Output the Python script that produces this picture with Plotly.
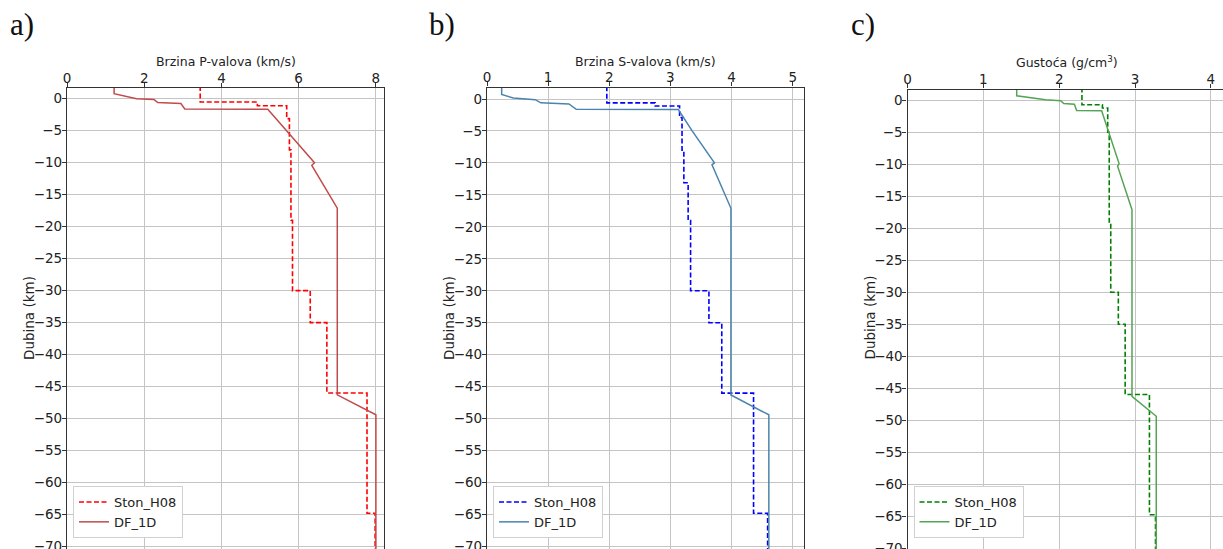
import plotly.graph_objects as go

W, H = 1223, 549

# ---------------- data ----------------
# Panel a: P-wave velocity (km/s) vs depth (km)
vp_df = [1.22, 1.22, 1.80, 2.25, 2.35, 2.95, 3.05, 5.20, 6.41, 6.34, 7.00, 7.00, 8.00, 8.00]
z_vp_df = [2.0, 0.8, 0.0, -0.1, -0.6, -0.75, -1.6, -1.65, -10.0, -10.4, -17.1, -46.3, -49.4, -71.0]
vp_st = [3.45, 3.45, 4.93, 4.93, 5.69, 5.69, 5.76, 5.76, 5.80, 5.80, 5.84, 5.84,
         6.30, 6.30, 6.73, 6.73, 7.77, 7.77, 7.98, 7.98]
z_vp_st = [2.0, -0.5, -0.5, -1.1, -1.1, -3.1, -3.1, -8.0, -8.0, -19.0, -19.0, -30.0,
           -30.0, -35.0, -35.0, -46.0, -46.0, -64.8, -64.8, -71.0]

# Panel b: S-wave velocity (km/s)
vs_df = [0.24, 0.24, 0.43, 0.79, 0.88, 1.34, 1.46, 3.13, 3.35, 3.53, 3.72, 3.68, 3.99, 3.99, 4.61, 4.61]
z_vs_df = [2.0, 0.7, 0.15, -0.1, -0.6, -0.78, -1.6, -1.65, -4.9, -7.4, -10.0, -10.3, -17.1, -46.3, -49.4, -71.0]
vs_st = [1.96, 1.96, 2.75, 2.75, 3.15, 3.15, 3.19, 3.19, 3.22, 3.22, 3.29, 3.29, 3.33, 3.33,
         3.63, 3.63, 3.84, 3.84, 4.36, 4.36, 4.59, 4.59]
z_vs_st = [2.0, -0.6, -0.6, -1.1, -1.1, -2.9, -2.9, -8.0, -8.0, -13.1, -13.1, -19.0, -19.0,
           -30.0, -30.0, -35.0, -35.0, -46.0, -46.0, -64.8, -64.8, -71.0]

# Panel c: density (g/cm3)
rho_df = [1.44, 1.44, 1.82, 2.02, 2.06, 2.20, 2.23, 2.56, 2.79, 2.77, 2.96, 2.96, 3.28, 3.28]
z_rho_df = [2.0, 0.7, 0.1, -0.05, -0.5, -0.6, -1.6, -1.65, -9.9, -10.3, -17.1, -46.3, -49.4, -71.0]
rho_st = [2.30, 2.30, 2.57, 2.57, 2.64, 2.64, 2.66, 2.66, 2.68, 2.68, 2.78, 2.78, 2.87, 2.87,
          3.19, 3.19, 3.27, 3.27]
z_rho_st = [2.0, -0.7, -0.7, -1.2, -1.2, -5.0, -5.0, -19.0, -19.0, -30.0, -30.0, -35.0,
            -35.0, -46.0, -46.0, -64.8, -64.8, -71.0]

names = ["Ston_H08", "DF_1D"]
x_titles = ["Brzina P-valova (km/s)", "Brzina S-valova (km/s)", "Gusto\u0107a (g/cm<sup>3</sup>)"]
panel_labels = ["a)", "b)", "c)"]
y_title = "Dubina (km)"
x_ticks = [[0, 2, 4, 6, 8], [0, 1, 2, 3, 4, 5], [0, 1, 2, 3, 4]]
y_ticks = list(range(0, -75, -5))
y_ticktext = ["0"] + ["\u2212" + str(-v) for v in y_ticks[1:]]

# ---------------- style ----------------
dash_colors = ["#ff0000", "#0000ff", "#008000"]
solid_colors = ["#c04b4b", "#4a84ae", "#55a455"]
FONT = "DejaVu Sans"
GRID = "#c4c4c4"
SPINE = "#333333"

# pixel geometry of panels
x0_px = [67, 487, 907.5]
x1_px = [384, 804.3, 1223]
xr = [[0, 8.21], [0, 5.19], [0, 4.16]]
top_px = [88, 87.5, 89.5]
yr = [[-70.39, 1.68], [-70.39, 1.8], [-70.15, 1.69]]

series = [(vp_st, z_vp_st, vp_df, z_vp_df),
          (vs_st, z_vs_st, vs_df, z_vs_df),
          (rho_st, z_rho_st, rho_df, z_rho_df)]

fig = go.Figure()
layout = dict(
    width=W, height=H, margin=dict(l=0, r=0, t=0, b=0, pad=0),
    paper_bgcolor="white", plot_bgcolor="white",
    font=dict(family=FONT, size=13.5, color="#222"),
    showlegend=True,
)
annotations = []

for i in range(3):
    sfx = "" if i == 0 else str(i + 1)
    xa, ya = "x" + sfx, "y" + sfx
    lg = "legend" + sfx
    xs, zs, xd, zd = series[i]
    fig.add_trace(go.Scatter(x=xs, y=zs, mode="lines", name=names[0],
                             line=dict(color=dash_colors[i], width=1.6, dash="5px,2.5px"),
                             xaxis=xa, yaxis=ya, legend=lg))
    fig.add_trace(go.Scatter(x=xd, y=zd, mode="lines", name=names[1],
                             line=dict(color=solid_colors[i], width=1.5),
                             xaxis=xa, yaxis=ya, legend=lg))
    layout["xaxis" + sfx] = dict(
        domain=[x0_px[i] / W, x1_px[i] / W], range=xr[i], anchor=ya, side="top",
        tickvals=x_ticks[i], ticks="outside", ticklen=4, tickcolor=SPINE,
        tickfont=dict(family=FONT, size=13.5, color="#222"), ticklabelstandoff=-5,
        showgrid=True, gridcolor=GRID, gridwidth=1, zeroline=False,
        showline=True, linecolor=SPINE, linewidth=1.2, mirror=False, automargin=False,
    )
    layout["yaxis" + sfx] = dict(
        domain=[0, 1 - top_px[i] / H], range=yr[i], anchor=xa,
        tickvals=y_ticks, ticktext=y_ticktext, ticks="outside", ticklen=4, tickcolor=SPINE,
        tickfont=dict(family=FONT, size=13.5, color="#222"), ticklabelstandoff=-3,
        ticklabeloverflow="allow",
        showgrid=True, gridcolor=GRID, gridwidth=1, zeroline=False,
        showline=True, linecolor=SPINE, linewidth=1.2, mirror=(i < 2), automargin=False,
    )
    layout[lg] = dict(
        x=(x0_px[i] + 6) / W, y=1 - 538 / H, xanchor="left", yanchor="bottom",
        bgcolor="white", bordercolor="#d0d0d0", borderwidth=1,
        font=dict(family=FONT, size=13, color="#222"), itemwidth=30,
        tracegroupgap=0,
    )
    # axis title (top)
    if i < 2:
        xc = (x0_px[i] + x1_px[i]) / 2
    else:
        xc = (x0_px[i] + 4.2 * 75.8 + x0_px[i]) / 2
    annotations.append(dict(text=x_titles[i], x=xc / W, y=1 - 62 / H, xref="paper", yref="paper",
                            showarrow=False, xanchor="center", yanchor="middle",
                            font=dict(family=FONT, size=12.5, color="#222")))
    # y title
    annotations.append(dict(text=y_title, x=(x0_px[i] - 38) / W, y=1 - 318 / H,
                            xref="paper", yref="paper", showarrow=False, textangle=-90,
                            xanchor="center", yanchor="middle",
                            font=dict(family=FONT, size=13.5, color="#222")))
    # panel label
    annotations.append(dict(text=panel_labels[i], x=(x0_px[i] - 45) / W, y=1 - 25 / H,
                            xref="paper", yref="paper", showarrow=False,
                            xanchor="center", yanchor="middle",
                            font=dict(family="Liberation Serif", size=31, color="#111")))

layout["annotations"] = annotations
fig.update_layout(**layout)
fig.write_html("out.html", post_script="document.body.style.margin='0';",
               config={"displayModeBar": False})
